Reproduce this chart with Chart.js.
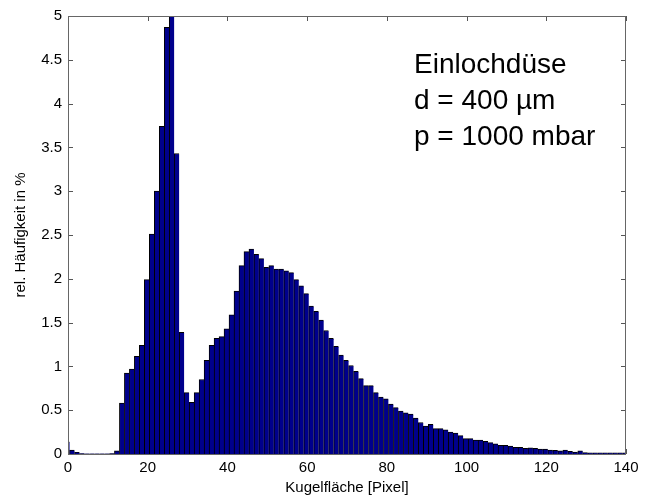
<!DOCTYPE html>
<html>
<head>
<meta charset="utf-8">
<script src="https://cdn.jsdelivr.net/npm/chart.js@4.4.0/dist/chart.umd.min.js"></script>
<style>
  html, body { margin: 0; padding: 0; background: #fff; }
  #wrap { width: 646px; height: 501px; }
</style>
</head>
<body>
<div id="wrap"><canvas id="histChart" width="646" height="501"></canvas></div>
<script>
// bin centres (Kugelfläche, Pixel) - bins are 1.25 px wide
const binCenters = [
  -0.225, 1.025, 2.275, 3.525, 4.775, 6.025, 7.275, 8.525, 9.775, 11.025,
  12.275, 13.525, 14.775, 16.025, 17.275, 18.525, 19.775, 21.025, 22.275, 23.525,
  24.775, 26.025, 27.275, 28.525, 29.775, 31.025, 32.275, 33.525, 34.775, 36.025,
  37.275, 38.525, 39.775, 41.025, 42.275, 43.525, 44.775, 46.025, 47.275, 48.525,
  49.775, 51.025, 52.275, 53.525, 54.775, 56.025, 57.275, 58.525, 59.775, 61.025,
  62.275, 63.525, 64.775, 66.025, 67.275, 68.525, 69.775, 71.025, 72.275, 73.525,
  74.775, 76.025, 77.275, 78.525, 79.775, 81.025, 82.275, 83.525, 84.775, 86.025,
  87.275, 88.525, 89.775, 91.025, 92.275, 93.525, 94.775, 96.025, 97.275, 98.525,
  99.775, 101.025, 102.275, 103.525, 104.775, 106.025, 107.275, 108.525, 109.775, 111.025,
  112.275, 113.525, 114.775, 116.025, 117.275, 118.525, 119.775, 121.025, 122.275, 123.525,
  124.775, 126.025, 127.275, 128.525, 129.775, 131.025, 132.275, 133.525, 134.775, 136.025,
  137.275, 138.525, 139.775
]

// rel. Häufigkeit in %
const relFreq = [
  0.14, 0.046, 0.02, 0.005, 0.003, 0.002, 0.002, 0.002, 0.003, 0.005,
  0.035, 0.58, 0.925, 0.97, 1.115, 1.24, 1.99, 2.51, 3.0, 3.74,
  4.87, 5.0, 3.43, 1.39, 0.70, 0.59, 0.70, 0.85, 1.07, 1.24,
  1.32, 1.34, 1.43, 1.59, 1.86, 2.15, 2.31, 2.34, 2.28, 2.23,
  2.13, 2.15, 2.11, 2.11, 2.09, 2.07, 1.99, 1.92, 1.83, 1.69,
  1.63, 1.53, 1.41, 1.32, 1.23, 1.13, 1.07, 1.01, 0.945, 0.86,
  0.78, 0.78, 0.70, 0.65, 0.63, 0.57, 0.53, 0.49, 0.47, 0.455,
  0.41, 0.36, 0.32, 0.34, 0.29, 0.29, 0.275, 0.25, 0.24, 0.21,
  0.175, 0.175, 0.16, 0.16, 0.145, 0.13, 0.115, 0.10, 0.10, 0.09,
  0.077, 0.075, 0.065, 0.07, 0.065, 0.055, 0.055, 0.045, 0.042, 0.035,
  0.045, 0.03, 0.022, 0.035, 0.015, 0.012, 0.012, 0.012, 0.012, 0.012,
  0.012, 0.012, 0.012
]

const xTicks = [0, 20, 40, 60, 80, 100, 120, 140]
const yTicks = [0, 0.5, 1, 1.5, 2, 2.5, 3, 3.5, 4, 4.5, 5]
const noteLines = ['Einlochdüse', 'd = 400 µm', 'p = 1000 mbar']

const FONT = "'Liberation Sans', Arial, sans-serif"

// matlab style box with inward ticks + the text in the upper right
const boxPlugin = {
  id: 'box',
  beforeDatasetsDraw(chart) {
    const { ctx, chartArea: a, scales: { x, y } } = chart
    ctx.save()
    ctx.strokeStyle = '#555'
    ctx.lineWidth = 1
    ctx.beginPath()
    xTicks.forEach(v => {
      const px = Math.round(x.getPixelForValue(v)) + 0.5
      ctx.moveTo(px, a.bottom); ctx.lineTo(px, a.bottom - 5)
      ctx.moveTo(px, a.top); ctx.lineTo(px, a.top + 5)
    })
    yTicks.forEach(v => {
      const py = Math.round(y.getPixelForValue(v)) + 0.5
      ctx.moveTo(a.left, py); ctx.lineTo(a.left + 5, py)
      ctx.moveTo(a.right, py); ctx.lineTo(a.right - 5, py)
    })
    ctx.stroke()
    ctx.restore()
  },
  afterDatasetsDraw(chart) {
    const { ctx, chartArea: a } = chart
    ctx.save()
    ctx.strokeStyle = '#666'
    ctx.lineWidth = 1
    ctx.strokeRect(a.left + 0.5, a.top + 0.5, a.right - a.left - 1, a.bottom - a.top)
    ctx.fillStyle = '#000'
    ctx.font = '28px ' + FONT
    ctx.textBaseline = 'alphabetic'
    noteLines.forEach((t, i) => ctx.fillText(t, a.left + 346, a.top + 57 + i * 36))
    ctx.restore()
  }
}

new Chart(document.getElementById('histChart'), {
  type: 'bar',
  data: {
    datasets: [{
      data: binCenters.map((c, i) => ({ x: c, y: relFreq[i] })),
      backgroundColor: '#00008c',
      borderColor: '#000',
      borderWidth: { top: 1, left: 1, right: 0, bottom: 0 },
      borderSkipped: false,
      barPercentage: 1,
      categoryPercentage: 1,
      clip: 0
    }]
  },
  options: {
    responsive: false,
    animation: false,
    layout: { padding: { top: 16, right: 20, left: 0, bottom: 0 } },
    plugins: { legend: { display: false }, tooltip: { enabled: false } },
    scales: {
      x: {
        type: 'linear',
        min: 0, max: 140,
        offset: false,
        afterFit: s => { s.height = 47 },
        afterBuildTicks: s => { s.ticks = xTicks.map(v => ({ value: v })) },
        grid: { display: false, drawTicks: false },
        border: { display: false },
        ticks: { color: '#000', padding: 5, maxRotation: 0, font: { family: FONT, size: 15 } },
        title: { display: true, text: 'Kugelfläche [Pixel]', color: '#000', padding: { top: 3 }, font: { family: FONT, size: 15 } }
      },
      y: {
        min: 0, max: 5,
        afterFit: s => { s.width = 68 },
        afterBuildTicks: s => { s.ticks = yTicks.map(v => ({ value: v })) },
        grid: { display: false, drawTicks: false },
        border: { display: false },
        ticks: { color: '#000', padding: 6, font: { family: FONT, size: 15 }, callback: v => String(v) },
        title: { display: true, text: 'rel. Häufigkeit in %', color: '#000', padding: { top: 12 }, font: { family: FONT, size: 15 } }
      }
    }
  },
  plugins: [boxPlugin]
})
</script>
</body>
</html>
